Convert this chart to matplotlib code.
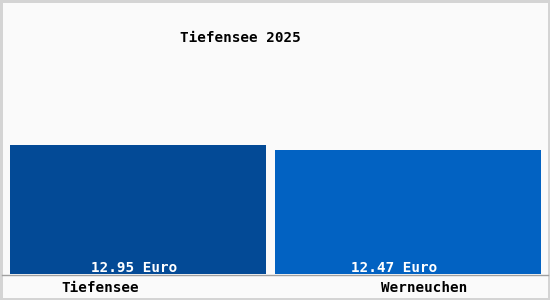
import matplotlib.pyplot as plt
from matplotlib.lines import Line2D

# data
places = ['Tiefensee', 'Werneuchen']
prices = [12.95, 12.47]
value_labels = ['12.95 Euro', '12.47 Euro']
title = 'Tiefensee 2025'
colors = ['#034a96', '#0262c2']

plt.rcParams['font.family'] = 'DejaVu Sans Mono'

fig = plt.figure(figsize=(5.5, 3), dpi=100)
fig.patch.set_facecolor('#fafafa')
fig.patch.set_edgecolor('#d4d4d4')
fig.patch.set_linewidth(2.5)

widths = [0.948, 0.985]
ax = fig.add_axes([10 / 550, 26 / 300, 531 / 550, 254 / 300])
ax.set_facecolor('none')
ax.bar(range(len(prices)), prices, width=widths, color=colors)
ax.set_xlim(-widths[0] / 2, len(prices) - 1 + widths[-1] / 2)
ax.set_ylim(0, 25.5)
ax.axis('off')

# value labels inside the bars, near the bottom
for i, lab in enumerate(value_labels):
    ax.annotate(lab, (i - 0.013 - 0.037 * i, 0), xytext=(0, -0.5), textcoords='offset points',
                ha='center', va='bottom', color='white', fontsize=10.3, fontweight='bold')

# baseline
fig.add_artist(Line2D([2 / 550, 548 / 550], [25 / 300, 25 / 300],
                      color='#a0a0a0', lw=1))

# category labels
for i, name in enumerate(places):
    x = (100 + i * 324) / 550
    fig.text(x, 12 / 300, name, ha='center', va='center', fontsize=10.3,
             color='black', fontweight='bold')

fig.text(240 / 550, 1 - 38 / 300, title, ha='center', va='center', fontsize=10.3,
         fontweight='bold')

fig.savefig('out.png', dpi=100, facecolor=fig.get_facecolor(), edgecolor=fig.get_edgecolor())
